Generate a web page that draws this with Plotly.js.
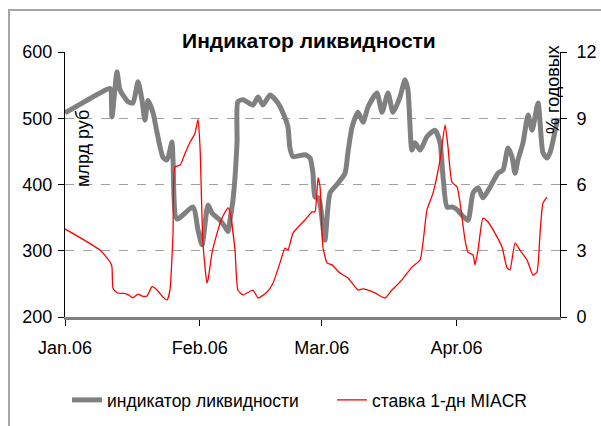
<!DOCTYPE html>
<html>
<head>
<meta charset="utf-8">
<script src="https://cdn.plot.ly/plotly-3.0.1.min.js"></script>
<style>
  html, body { margin: 0; padding: 0; background: #ffffff; }
  #chart { width: 601px; height: 426px; position: absolute; left: 0; top: 0; }
  #frame { position: absolute; left: 8px; top: 9px; width: 700px; height: 500px;
           border-left: 2px solid #a6a6a6; border-top: 2px solid #a6a6a6; pointer-events: none; }
</style>
</head>
<body>
<div id="chart"></div>
<div id="frame"></div>
<script>
// ---- data ----
var liqDates = [
  "2006-01-01 00:00","2006-01-06 01:00","2006-01-09 01:00","2006-01-11 08:00","2006-01-11 19:00",
  "2006-01-12 23:00","2006-01-13 15:00","2006-01-15 12:00","2006-01-16 15:00","2006-01-17 19:00",
  "2006-01-18 17:00","2006-01-19 09:00","2006-01-20 02:00","2006-01-21 06:00","2006-01-22 04:00",
  "2006-01-23 13:00","2006-01-24 11:00","2006-01-25 14:00","2006-01-25 20:00","2006-01-26 18:00",
  "2006-01-30 10:00","2006-01-31 14:00","2006-02-01 12:00","2006-02-02 21:00","2006-02-03 19:00",
  "2006-02-05 15:00","2006-02-06 14:00","2006-02-07 11:00","2006-02-07 22:00","2006-02-08 15:00",
  "2006-02-09 13:00","2006-02-09 18:00","2006-02-10 22:00","2006-02-13 05:00","2006-02-14 09:00",
  "2006-02-15 12:00","2006-02-17 03:00","2006-02-18 18:00","2006-02-20 03:00","2006-02-21 06:00",
  "2006-02-21 17:00","2006-02-22 10:00","2006-02-25 04:00","2006-02-26 08:00","2006-02-27 00:00",
  "2006-02-27 11:00","2006-02-28 04:00","2006-02-28 15:00","2006-03-01 18:00","2006-03-02 22:00",
  "2006-03-04 18:00","2006-03-06 09:00","2006-03-07 01:00","2006-03-08 00:00","2006-03-09 09:00",
  "2006-03-10 12:00","2006-03-11 16:00","2006-03-13 17:00","2006-03-14 21:00","2006-03-16 06:00",
  "2006-03-17 10:00","2006-03-19 00:00","2006-03-20 04:00","2006-03-20 20:00","2006-03-21 18:00",
  "2006-03-22 11:00","2006-03-23 15:00","2006-03-25 05:00","2006-03-27 01:00","2006-03-28 05:00",
  "2006-03-28 22:00","2006-03-29 20:00","2006-03-31 05:00","2006-04-01 08:00","2006-04-01 19:00",
  "2006-04-03 15:00","2006-04-04 19:00","2006-04-05 23:00","2006-04-07 02:00","2006-04-08 17:00",
  "2006-04-10 13:00","2006-04-11 17:00","2006-04-12 20:00","2006-04-13 18:00","2006-04-14 11:00",
  "2006-04-15 03:00","2006-04-16 07:00","2006-04-17 11:00","2006-04-18 09:00","2006-04-19 18:00",
  "2006-04-20 21:00","2006-04-21 19:00","2006-04-22 12:00","2006-04-24 06:00"
];
var liqValues = [
  508, 527, 538, 545, 502,
  570, 543, 525, 523, 555,
  527, 497, 527, 508, 478,
  441, 437, 464, 437, 348,
  366, 331, 309, 369, 357,
  346, 338, 329, 346, 377,
  463, 525, 528, 520, 532,
  520, 535, 525, 508, 487,
  455, 442, 445, 440, 417,
  381, 380, 372, 316, 387,
  402, 417, 448, 487, 509,
  494, 517, 538, 509, 538,
  509, 532, 558, 543, 452,
  463, 452, 472, 482, 463,
  411, 366, 366, 361, 357,
  346, 387, 395, 380, 396,
  417, 422, 455, 442, 417,
  437, 463, 505, 482, 523,
  448, 440, 448, 500
];
var rateDates = [
  "2006-01-01 00:00","2006-01-09 01:00","2006-01-11 08:00","2006-01-11 19:00","2006-01-12 01:00",
  "2006-01-12 23:00","2006-01-15 06:00","2006-01-16 15:00","2006-01-17 19:00","2006-01-18 17:00",
  "2006-01-19 20:00","2006-01-21 00:00","2006-01-22 04:00","2006-01-23 13:00","2006-01-24 11:00",
  "2006-01-25 03:00","2006-01-25 20:00","2006-01-26 07:00","2006-01-27 11:00","2006-01-28 14:00",
  "2006-01-29 17:00","2006-01-30 20:00","2006-01-31 14:00","2006-02-01 01:00","2006-02-01 17:00",
  "2006-02-02 15:00","2006-02-02 21:00","2006-02-03 19:00","2006-02-04 23:00","2006-02-06 02:00",
  "2006-02-07 11:00","2006-02-07 22:00","2006-02-09 02:00","2006-02-09 18:00","2006-02-10 22:00",
  "2006-02-13 05:00","2006-02-14 09:00","2006-02-16 11:00","2006-02-17 20:00","2006-02-19 10:00",
  "2006-02-20 14:00","2006-02-21 06:00","2006-02-22 10:00","2006-02-25 04:00","2006-02-26 19:00",
  "2006-02-27 11:00","2006-02-28 04:00","2006-02-28 15:00","2006-03-01 07:00","2006-03-02 06:00",
  "2006-03-03 09:00","2006-03-05 05:00","2006-03-07 01:00","2006-03-09 09:00","2006-03-10 12:00",
  "2006-03-13 06:00","2006-03-15 13:00","2006-03-17 04:00","2006-03-19 11:00","2006-03-21 18:00",
  "2006-03-23 15:00","2006-03-25 05:00","2006-03-26 14:00","2006-03-28 05:00","2006-03-29 09:00",
  "2006-03-30 01:00","2006-03-30 23:00","2006-04-01 03:00","2006-04-01 19:00","2006-04-02 23:00",
  "2006-04-03 15:00","2006-04-04 19:00","2006-04-05 06:00","2006-04-05 23:00","2006-04-07 02:00",
  "2006-04-08 06:00","2006-04-09 20:00","2006-04-11 11:00","2006-04-12 15:00","2006-04-13 07:00",
  "2006-04-14 11:00","2006-04-15 14:00","2006-04-17 05:00","2006-04-18 14:00","2006-04-19 12:00",
  "2006-04-20 05:00","2006-04-20 21:00","2006-04-21 19:00"
];
var rateValues = [
  3.99, 3.03, 2.5, 2.27, 1.3,
  1.1, 1.04, 0.87, 1.04, 0.95,
  0.95, 1.37, 1.22, 0.9, 0.77,
  1.22, 3.8, 6.8, 6.88, 7.4,
  7.9, 8.3, 8.95, 7.7, 3.35,
  1.54, 1.68, 2.9, 3.8, 4.48,
  4.94, 4.76, 3.03, 1.22, 1.0,
  1.22, 0.86, 1.13, 1.54, 2.45,
  3.12, 3.03, 3.8, 4.39, 4.76,
  4.76, 6.3, 5.9, 3.17, 2.45,
  2.36, 1.99, 1.77, 1.22, 1.27,
  1.09, 0.86, 1.22, 1.68, 2.26,
  2.58, 4.85, 5.6, 7.1, 8.7,
  7.7, 6.1, 5.9, 5.2, 3.49,
  2.94, 2.81, 2.36, 3.03, 4.48,
  4.3, 3.8, 3.17, 2.22, 2.13,
  3.35, 3.03, 2.58, 1.9, 2.04,
  3.8, 5.16, 5.43
];
var monthTicks = ["2006-01-01","2006-02-01","2006-03-01","2006-04-01"];
var monthLabels = ["Jan.06","Feb.06","Mar.06","Apr.06"];
var leftTicks = [200, 300, 400, 500, 600];
var rightTicks = [0, 3, 6, 9, 12];
var seriesNames = ["индикатор ликвидности", "ставка 1-дн MIACR"];
var chartTitle = "Индикатор ликвидности";
var leftTitle = "млрд руб";
var rightTitle = "% годовых";

var FONT = "Liberation Sans, Arial, sans-serif";

var traces = [
  { x: liqDates, y: liqValues, name: seriesNames[0], type: "scatter", mode: "lines",
    line: { color: "#808080", width: 5, shape: "spline", smoothing: 0.6 }, yaxis: "y",
    legend: "legend" },
  { x: rateDates, y: rateValues, name: seriesNames[1], type: "scatter", mode: "lines",
    line: { color: "#ff0000", width: 1.3, shape: "spline", smoothing: 0.5 }, yaxis: "y2",
    legend: "legend2" }
];

var legendFont = { family: FONT, size: 17.5, color: "#000" };

var layout = {
  width: 601, height: 426,
  margin: { l: 65, r: 41, t: 52, b: 109, pad: 0 },
  paper_bgcolor: "rgba(0,0,0,0)",
  plot_bgcolor: "rgba(0,0,0,0)",
  font: { family: FONT, size: 18, color: "#000000" },
  showlegend: true,
  title: { text: "<b>" + chartTitle + "</b>", font: { family: FONT, size: 21, color: "#000" },
           xref: "container", yref: "container", x: 0.514, xanchor: "center",
           y: 1 - 41 / 426, yanchor: "middle" },
  xaxis: {
    type: "date",
    range: ["2006-01-01", "2006-04-24 19:00"],
    tickmode: "array", tickvals: monthTicks, ticktext: monthLabels,
    ticks: "outside", ticklen: 6, tickcolor: "#000", tickwidth: 1,
    showline: true, linecolor: "#808080", linewidth: 3,
    showgrid: false, zeroline: false,
    tickfont: { family: FONT, size: 18, color: "#000" },
    ticklabelstandoff: 6,
    fixedrange: true
  },
  yaxis: {
    range: [200, 600], tickmode: "array", tickvals: leftTicks,
    ticks: "outside", ticklen: 6, tickcolor: "#000", tickwidth: 1,
    showline: true, linecolor: "#000", linewidth: 1,
    showgrid: true, gridcolor: "#a0a0a0", gridwidth: 1, griddash: "dash",
    zeroline: false,
    tickfont: { family: FONT, size: 18, color: "#000" },
    ticklabelstandoff: 2,
    fixedrange: true
  },
  yaxis2: {
    range: [0, 12], tickmode: "array", tickvals: rightTicks,
    overlaying: "y", side: "right",
    ticks: "outside", ticklen: 6, tickcolor: "#000", tickwidth: 1,
    showline: true, linecolor: "#000", linewidth: 1,
    showgrid: false, zeroline: false,
    tickfont: { family: FONT, size: 18, color: "#000" },
    ticklabelstandoff: 6,
    fixedrange: true
  },
  legend: {
    orientation: "h", xref: "container", yref: "container",
    x: 67 / 601, xanchor: "left", y: 1 - 400 / 426, yanchor: "middle",
    font: legendFont, bgcolor: "rgba(0,0,0,0)"
  },
  legend2: {
    orientation: "h", xref: "container", yref: "container",
    x: 332 / 601, xanchor: "left", y: 1 - 400 / 426, yanchor: "middle",
    font: legendFont, bgcolor: "rgba(0,0,0,0)"
  },
  annotations: [
    { text: leftTitle, xref: "paper", yref: "paper", x: (83 - 65) / 495, y: (317 - 149) / 265,
      xanchor: "center", yanchor: "middle", textangle: -90, showarrow: false,
      font: { family: FONT, size: 18, color: "#000" } },
    { text: rightTitle, xref: "paper", yref: "paper", x: (553 - 65) / 495, y: (317 - 90) / 265,
      xanchor: "center", yanchor: "middle", textangle: -90, showarrow: false,
      font: { family: FONT, size: 18, color: "#000" } }
  ]
};

Plotly.newPlot("chart", traces, layout, { displayModeBar: false, staticPlot: true });
</script>
</body>
</html>
